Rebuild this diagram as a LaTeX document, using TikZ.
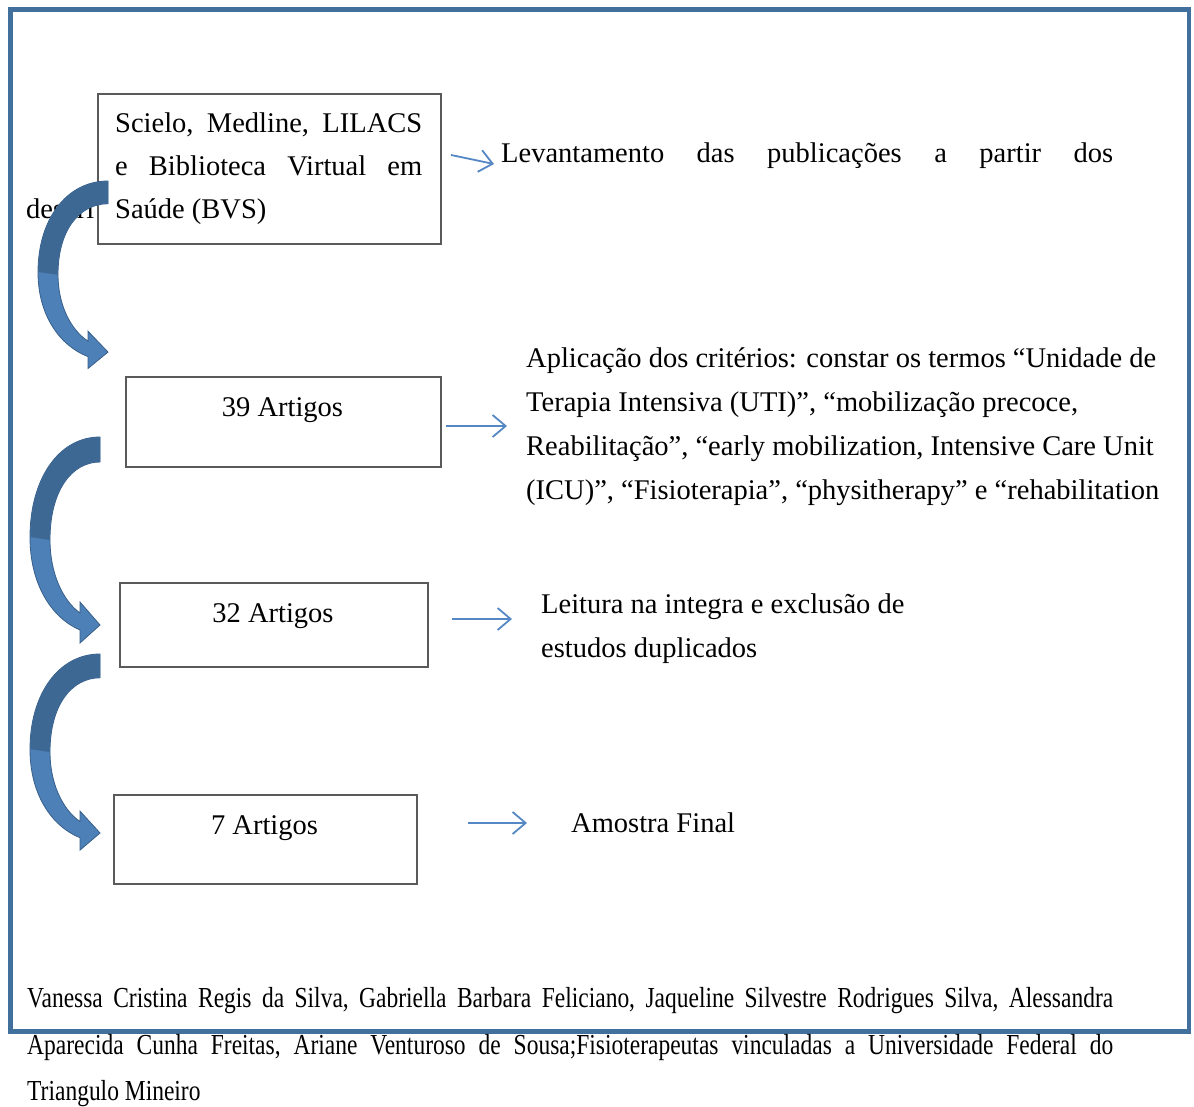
\documentclass[tikz,border=0pt]{standalone}
\usepackage{graphicx}
\usepackage{fontspec}
\setmainfont{Liberation Serif}
\usetikzlibrary{arrows.meta}
\definecolor{framecol}{RGB}{65,112,156}
\definecolor{boxcol}{RGB}{90,90,90}
\definecolor{thinblue}{RGB}{84,135,196}
\definecolor{arrlight}{RGB}{78,128,184}
\definecolor{arrdark}{RGB}{62,104,148}
\definecolor{arredge}{RGB}{55,95,138}
\newcommand\bendarrow[3]{%
\begin{scope}[shift={(#1,#2)},yscale=#3]
 \fill[arrlight,draw=arredge,line width=0.8] (0,0) .. controls (-42,0) and (-70,43) .. (-70,100)
   .. controls (-70,148) and (-48,181) .. (-20,193) -- (-20,206) -- (0,188) -- (-20,165) -- (-20,176)
   .. controls (-38,163) and (-50,135) .. (-50,103) .. controls (-50,53) and (-28,25) .. (0,25) -- cycle;
 \fill[arrdark] (0,0.4) .. controls (-42,0.4) and (-69.6,43) .. (-69.6,100) -- (-50.4,103)
   .. controls (-50.4,53) and (-28,24.6) .. (0,24.6) -- cycle;
\end{scope}}
\newcommand\footline[1]{\scalebox{0.81}[1]{#1}}
\tikzset{
 flowbox/.style={draw=boxcol,line width=1.5,fill=white,inner sep=0,anchor=north west},
 body/.style={inner sep=0,anchor=base west,font=\fontsize{28.5}{44}\selectfont},
 foot/.style={inner sep=0,anchor=base west,font=\fontsize{29}{40}\selectfont},
 thinarrow/.style={draw=thinblue,line width=1.8,-{Straight Barb[length=13,width=22,line width=1.8]}}
}
\begin{document}
\begin{tikzpicture}[x=1pt,y=-1pt]
\useasboundingbox (0,0) rectangle (1194,1106);
\fill[white] (0,0) rectangle (1194,1106);
% outer frame
\draw[framecol,line width=4.5] (10.5,9.5) rectangle (1189,1031.5);
% text partly hidden
\node[body] (hid) at (26,218) {descri};
% boxes
\node[flowbox,minimum width=343,minimum height=150] (b1) at (97,93) {};
\node[flowbox,minimum width=315,minimum height=90] (b2) at (125,376) {};
\node[flowbox,minimum width=308,minimum height=84] (b3) at (119,582) {};
\node[flowbox,minimum width=303,minimum height=89] (b4) at (113,794) {};
% box texts
\node[body] (b1l1) at (115,132) {\hbox to 307pt{Scielo,\hfill Medline,\hfill LILACS}};
\node[body] (b1l2) at (115,175) {\hbox to 307pt{e\hfill Biblioteca\hfill Virtual\hfill em}};
\node[body] (b1l3) at (115,218) {Saúde (BVS)};
\node[body,anchor=base] (b2t) at (282.5,416) {39 Artigos};
\node[body,anchor=base] (b3t) at (273,622) {32 Artigos};
\node[body,anchor=base] (b4t) at (264.5,834) {7 Artigos};
% right texts
\node[body] (r1) at (501,162) {\hbox to 612pt{Levantamento\hfill das\hfill publicações\hfill a\hfill partir\hfill dos}};
\node[body] (r2a) at (526,367) {Aplicação dos critérios: constar os termos “Unidade de};
\node[body] (r2b) at (526,411) {Terapia Intensiva (UTI)”, “mobilização precoce,};
\node[body] (r2c) at (526,455) {Reabilitação”, “early mobilization, Intensive Care Unit};
\node[body] (r2d) at (526,499) {(ICU)”, “Fisioterapia”, “physitherapy” e “rehabilitation};
\node[body] (r3a) at (541,613) {Leitura na integra e exclusão de};
\node[body] (r3b) at (541,657) {estudos duplicados};
\node[body] (r4) at (571,832) {Amostra Final};
% thin arrows
\coordinate (a1s) at (451,155); \coordinate (a1e) at (494,164);
\coordinate (a2s) at (446,426); \coordinate (a2e) at (507,426);
\coordinate (a3s) at (452,619); \coordinate (a3e) at (512,619);
\coordinate (a4s) at (468,823); \coordinate (a4e) at (527,823);
\draw[thinarrow] (a1s) -- (a1e);
\draw[thinarrow] (a2s) -- (a2e);
\draw[thinarrow] (a3s) -- (a3e);
\draw[thinarrow] (a4s) -- (a4e);
% curved arrows
\bendarrow{108}{181}{0.91}
\bendarrow{100}{437}{1.0}
\bendarrow{100}{654}{0.952}
% footer
\node[foot] (f1) at (27,1007) {\footline{\hbox to 1340.7pt{Vanessa\hfill Cristina\hfill Regis\hfill da\hfill Silva,\hfill Gabriella\hfill Barbara\hfill Feliciano,\hfill Jaqueline\hfill Silvestre\hfill Rodrigues\hfill Silva,\hfill Alessandra}}};
\node[foot] (f2) at (27,1054) {\footline{\hbox to 1340.7pt{Aparecida\hfill Cunha\hfill Freitas,\hfill Ariane\hfill Venturoso\hfill de\hfill Sousa;Fisioterapeutas\hfill vinculadas\hfill a\hfill Universidade\hfill Federal\hfill do}}};
\node[foot] (f3) at (27,1100) {\footline{Triangulo Mineiro}};
\end{tikzpicture}
\end{document}
